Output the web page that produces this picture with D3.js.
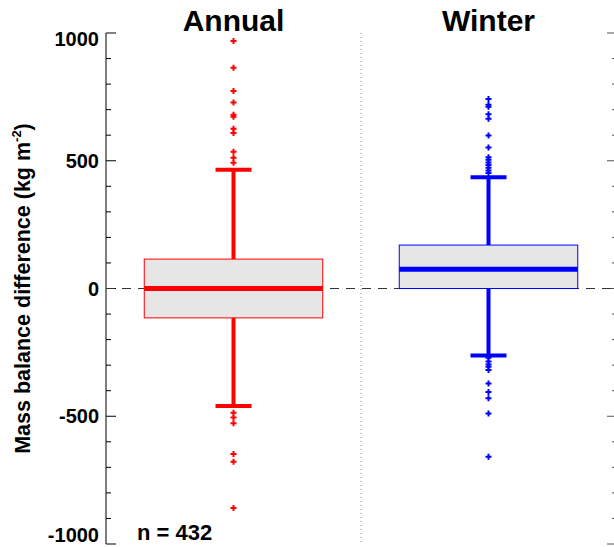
<!DOCTYPE html>
<html><head><meta charset="utf-8">
<script src="https://cdn.jsdelivr.net/npm/d3@7"></script>
<style>body{margin:0;background:#fff}svg{display:block}text{font-family:"Liberation Sans",Arial,sans-serif;font-weight:bold}</style>
</head><body><svg id="c" width="614" height="547"></svg>
<script>
const categories = ["Annual", "Winter"];
const colors = ["#ff0000", "#0000ff"];
const q1 = [-115, 0];
const median = [0, 75];
const q3 = [115, 170];
const whiskerLow = [-460, -262];
const whiskerHigh = [465, 435];
const outliersAnnual = [969, 864, 773, 728, 680, 672, 625, 609, 535, 512, 492, -486, -505, -527, -648, -678, -859];
const outliersWinter = [742, 719, 711, 682, 664, 599, 552, 514, 504, 493, 483, 473, 462, 452, -271, -286, -297, -306, -319, -372, -405, -430, -489, -659];
const outliers = [outliersAnnual, outliersWinter];
const yTicks = [-1000, -500, 0, 500, 1000];
const nLabel = "n = 432";

const svg = d3.select("#c");
const L = 106, R = 616, T = 33, B = 544;
const y = d3.scaleLinear().domain([-1000, 1000]).range([B, T]);
const x = d3.scaleBand().domain(categories).range([L, R]).paddingInner(0).paddingOuter(0);
const bw = x.bandwidth();
const boxW = bw * 0.7, capW = 36;

// left axis
const minor = d3.range(-1000, 1001, 100);
const gL = svg.append("g").attr("transform", `translate(${L},0)`);
gL.append("line").attr("y1", T).attr("y2", B).attr("stroke", "#000").attr("stroke-width", 1);
gL.selectAll(".mn").data(minor).join("line").attr("x1", 0)
  .attr("x2", d => yTicks.includes(d) ? 10 : 5)
  .attr("y1", d => y(d)).attr("y2", d => y(d)).attr("stroke", "#000").attr("stroke-width", 1);
gL.selectAll("text").data(yTicks).join("text").attr("x", -7)
  .attr("y", d => d === 1000 ? y(d) + 13 : d === -1000 ? y(d) - 2 : y(d) + 7)
  .attr("text-anchor", "end").attr("font-size", 20).text(d => d);
// right axis ticks
const gR = svg.append("g").attr("transform", `translate(614,0)`);
gR.selectAll("line").data(minor).join("line").attr("x1", 0)
  .attr("x2", d => yTicks.includes(d) ? -7 : -2)
  .attr("y1", d => y(d)).attr("y2", d => y(d)).attr("stroke", "#555").attr("stroke-width", 1);

// zero dashed line
svg.append("line").attr("x1", L).attr("x2", 614).attr("y1", y(0)).attr("y2", y(0))
  .attr("stroke", "#333").attr("stroke-width", 1).attr("stroke-dasharray", "9,7");
// divider
svg.append("line").attr("x1", x("Winter")).attr("x2", x("Winter")).attr("y1", T).attr("y2", B)
  .attr("stroke", "#888").attr("stroke-width", 1).attr("stroke-dasharray", "1,3");

categories.forEach((c, i) => {
  const cx = x(c) + bw / 2;
  const g = svg.append("g");
  g.append("line").attr("x1", cx).attr("x2", cx).attr("y1", y(q3[i])).attr("y2", y(whiskerHigh[i]))
    .attr("stroke", colors[i]).attr("stroke-width", 4);
  g.append("line").attr("x1", cx).attr("x2", cx).attr("y1", y(q1[i])).attr("y2", y(whiskerLow[i]))
    .attr("stroke", colors[i]).attr("stroke-width", 4);
  [whiskerHigh[i], whiskerLow[i]].forEach(v => {
    g.append("line").attr("x1", cx - capW / 2).attr("x2", cx + capW / 2).attr("y1", y(v)).attr("y2", y(v))
      .attr("stroke", colors[i]).attr("stroke-width", 4);
  });
  g.append("rect").attr("x", cx - boxW / 2).attr("width", boxW).attr("y", y(q3[i]))
    .attr("height", y(q1[i]) - y(q3[i])).attr("fill", "#e6e6e6").attr("stroke", colors[i]).attr("stroke-width", 1);
  g.append("line").attr("x1", cx - boxW / 2).attr("x2", cx + boxW / 2).attr("y1", y(median[i])).attr("y2", y(median[i]))
    .attr("stroke", colors[i]).attr("stroke-width", 5);
  const s = 3;
  g.selectAll(".o").data(outliers[i]).join("path")
    .attr("d", v => `M${cx - s},${y(v)}H${cx + s}M${cx},${y(v) - s}V${y(v) + s}`)
    .attr("stroke", colors[i]).attr("stroke-width", 2).attr("fill", "none");
  svg.append("text").attr("x", cx).attr("y", 31).attr("text-anchor", "middle").attr("font-size", 30).text(c);
});

svg.append("text").attr("x", 137).attr("y", 540).attr("font-size", 22).text(nLabel);

const yl = svg.append("text").attr("transform", `translate(30,${y(0)}) rotate(-90)`).attr("text-anchor", "middle").attr("font-size", 21.5);
yl.append("tspan").text("Mass balance difference (kg m");
yl.append("tspan").attr("font-size", 13).attr("dy", -9).text("-2");
yl.append("tspan").attr("dy", 9).text(")");
</script></body></html>
